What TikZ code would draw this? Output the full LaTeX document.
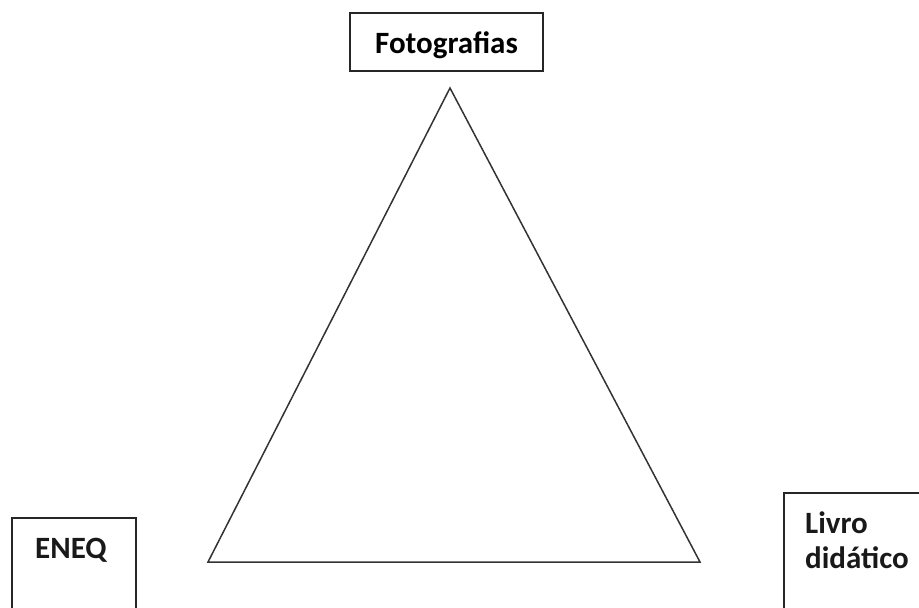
\documentclass[tikz,border=0pt]{standalone}
\usepackage{fontspec}
\setmainfont{Carlito}
\begin{document}
\begin{tikzpicture}[x=1pt, y=-1pt,
    box/.style={draw=black!85, line width=1.6pt, rectangle, inner sep=0pt},
    lbl/.style={font=\fontsize{31}{35}\selectfont\bfseries, text=black!90, inner sep=0pt, align=left}]
    \useasboundingbox (0,0) rectangle (919,608);
    \clip (0,0) rectangle (919,608);
    % Boxes at the three corners
    \node[box, minimum width=193pt, minimum height=58pt, font=\fontsize{31}{35}\selectfont\bfseries,
          text height=22pt, text depth=0pt] (foto) at (446.5,42) {Fotografias};
    \node[box, anchor=north west, minimum width=124pt, minimum height=140pt] (eneq) at (11,517) {};
    \node[box, anchor=north west, minimum width=180pt, minimum height=160pt] (livro) at (783,492) {};
    % Labels inside the lower boxes
    \node[lbl, anchor=north west] (eneqlbl) at ([xshift=24pt, yshift=-21pt]eneq.north west) {ENEQ};
    \node[lbl, anchor=north west] (livrolbl) at ([xshift=22pt, yshift=-20pt]livro.north west) {Livro\\did\'atico};
    % Triangle vertices
    \coordinate (top)   at (450,88);
    \coordinate (left)  at (208,562);
    \coordinate (right) at (700,562);
    % Triangle
    \draw[line width=1.5pt, black!80, line join=miter] (left)--(right)--(top)--cycle;
\end{tikzpicture}
\end{document}
